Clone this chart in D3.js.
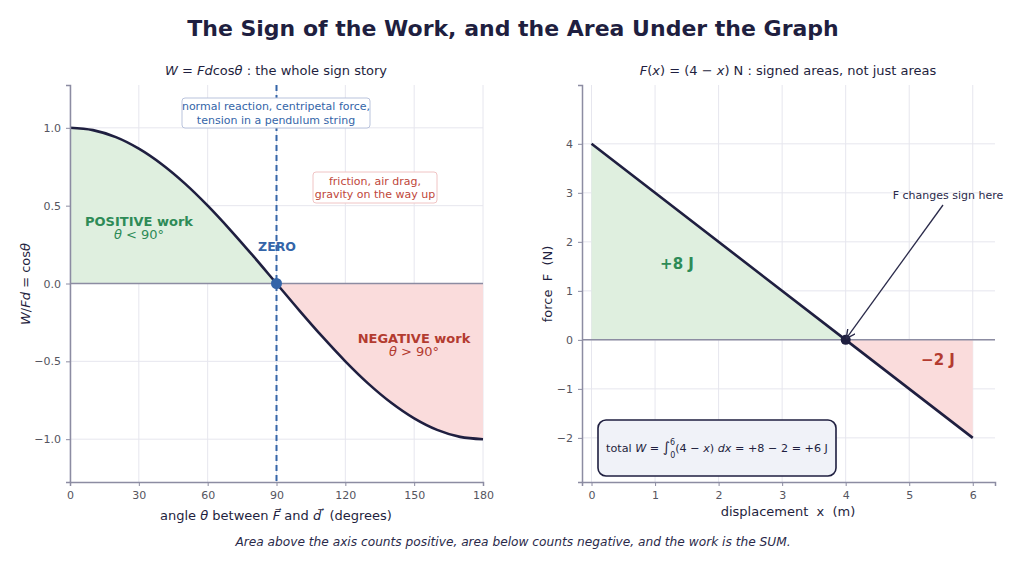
<!DOCTYPE html>
<html><head><meta charset="utf-8">
<script src="https://cdn.jsdelivr.net/npm/d3@7"></script>
<style>
body{margin:0;background:#fff;}
svg{font-family:"DejaVu Sans",sans-serif;}
</style></head>
<body><svg id="c" width="1024" height="567"></svg>
<script>
// ---- data ----
const angles = [0,10,20,30,40,50,60,70,80,90,100,110,120,130,140,150,160,170,180];
const cosValues = [1.0,0.985,0.940,0.866,0.766,0.643,0.500,0.342,0.174,0.0,-0.174,-0.342,-0.500,-0.643,-0.766,-0.866,-0.940,-0.985,-1.0];
const angleTicks = [0,30,60,90,120,150,180];
const cosTicks = [-1.0,-0.5,0.0,0.5,1.0];
const positions = [0,4,6];
const forces = [4,0,-2];
const xTicks = [0,1,2,3,4,5,6];
const fTicks = [-2,-1,0,1,2,3,4];

const navy="#1f1f40", green="#2e8b57", red="#b33b30", blue="#3465a8";
const gfill="#dfefdf", rfill="#fadcdc", grid="#e6e6ee", spine="#8c8ca2", tick="#555560";

const svg=d3.select("#c");

svg.append("text").attr("x",513).attr("y",36).attr("text-anchor","middle")
  .attr("font-size",22).attr("font-weight","bold").attr("fill",navy)
  .text("The Sign of the Work, and the Area Under the Graph");
svg.append("text").attr("x",513).attr("y",546).attr("text-anchor","middle")
  .attr("font-size",12.2).attr("font-style","italic").attr("fill","#2a2a4a")
  .text("Area above the axis counts positive, area below counts negative, and the work is the SUM.");

function richText(g, parts, attrs){
  const t=g.append("text").attr("xml:space","preserve");
  for(const k in attrs) t.attr(k,attrs[k]);
  parts.forEach(p=>{
    const s=t.append("tspan").text(p.t);
    if(p.i) s.attr("font-style","italic");
    if(p.dy) s.attr("dy",p.dy);
    if(p.fs) s.attr("font-size",p.fs);
    if(p.dx) s.attr("dx",p.dx);
  });
  return t;
}

// ---------- LEFT PANEL ----------
const L={x0:70,x1:483,y0:85,y1:482};
const xa=d3.scaleLinear().domain([0,180]).range([L.x0,L.x1]);
const ya=d3.scaleLinear().domain([-1.275,1.275]).range([L.y1,L.y0]);
const gl=svg.append("g");
gl.selectAll(".gx").data(angleTicks).join("line").attr("x1",d=>xa(d)).attr("x2",d=>xa(d))
  .attr("y1",L.y0).attr("y2",L.y1).attr("stroke",grid).attr("stroke-width",1);
gl.selectAll(".gy").data(cosTicks).join("line").attr("y1",d=>ya(d)).attr("y2",d=>ya(d))
  .attr("x1",L.x0).attr("x2",L.x1).attr("stroke",grid).attr("stroke-width",1);
const pts=angles.map((a,i)=>({a,v:cosValues[i]}));
const posPts=pts.filter(d=>d.a<=90), negPts=pts.filter(d=>d.a>=90);
const area=d3.area().x(d=>xa(d.a)).y0(ya(0)).y1(d=>ya(d.v)).curve(d3.curveCatmullRom);
gl.append("path").datum(posPts).attr("d",area).attr("fill",gfill);
gl.append("path").datum(negPts).attr("d",area).attr("fill",rfill);
gl.append("line").attr("x1",L.x0).attr("x2",L.x1).attr("y1",ya(0)).attr("y2",ya(0)).attr("stroke",spine).attr("stroke-width",1.5);
gl.append("path").datum(pts).attr("d",d3.line().x(d=>xa(d.a)).y(d=>ya(d.v)).curve(d3.curveCatmullRom))
  .attr("fill","none").attr("stroke",navy).attr("stroke-width",2.6);
gl.append("line").attr("x1",xa(90)).attr("x2",xa(90)).attr("y1",L.y0).attr("y2",L.y1)
  .attr("stroke",blue).attr("stroke-width",2).attr("stroke-dasharray","6,4");
gl.append("circle").attr("cx",xa(90)).attr("cy",ya(0)).attr("r",5.5).attr("fill",blue);
const axL=d3.axisBottom(xa).tickValues(angleTicks).tickSize(4).tickPadding(5).tickFormat(d3.format("d"));
const gax=gl.append("g").attr("transform",`translate(0,${L.y1})`).call(axL);
const ayL=d3.axisLeft(ya).tickValues(cosTicks).tickSize(4).tickPadding(5).tickFormat(d=>d3.format(".1f")(d).replace("-","−"));
const gay=gl.append("g").attr("transform",`translate(${L.x0},0)`).call(ayL);
[gax,gay].forEach(g=>{g.select(".domain").attr("stroke",spine).attr("stroke-width",1.5);
  g.selectAll(".tick line").attr("stroke",spine);
  g.selectAll(".tick text").attr("fill",tick).attr("font-size",11).attr("font-family","DejaVu Sans");});
richText(gl,[{t:"W",i:1},{t:" = "},{t:"Fd",i:1},{t:"cos"},{t:"θ",i:1},{t:" : the whole sign story"}],
  {x:276,y:75,"text-anchor":"middle","font-size":13,fill:navy});
richText(gl,[{t:"angle "},{t:"θ",i:1},{t:" between "},{t:"F⃗",i:1},{t:" and "},{t:"d⃗",i:1},{t:"  (degrees)"}],
  {x:276,y:520,"text-anchor":"middle","font-size":13,fill:navy});
richText(gl,[{t:"W",i:1},{t:"/"},{t:"Fd",i:1},{t:" = cos"},{t:"θ",i:1}],
  {transform:"translate(30,284) rotate(-90)","text-anchor":"middle","font-size":13,fill:navy});
function box(g,x,y,w,h,stroke,fill,rx){g.append("rect").attr("x",x).attr("y",y).attr("width",w).attr("height",h)
  .attr("rx",rx).attr("fill",fill).attr("stroke",stroke).attr("stroke-width",1);}
box(gl,182,98,188,30,"#b9c3dc","#fff",3);
gl.append("text").attr("x",276).attr("y",110).attr("text-anchor","middle").attr("font-size",11).attr("fill",blue).text("normal reaction, centripetal force,");
gl.append("text").attr("x",276).attr("y",123.5).attr("text-anchor","middle").attr("font-size",11).attr("fill",blue).text("tension in a pendulum string");
box(gl,313,172,124,31,"#f0c4c4","#fff",3);
gl.append("text").attr("x",375).attr("y",185).attr("text-anchor","middle").attr("font-size",11).attr("fill","#c0463a").text("friction, air drag,");
gl.append("text").attr("x",375).attr("y",198).attr("text-anchor","middle").attr("font-size",11).attr("fill","#c0463a").text("gravity on the way up");
gl.append("text").attr("x",139).attr("y",226).attr("text-anchor","middle").attr("font-size",13).attr("font-weight","bold").attr("fill",green).text("POSITIVE work");
richText(gl,[{t:"θ",i:1},{t:" < 90°"}],{x:139,y:239,"text-anchor":"middle","font-size":13,fill:green});
gl.append("text").attr("x",277).attr("y",251).attr("text-anchor","middle").attr("font-size",12.5).attr("font-weight","bold").attr("fill",blue).text("ZERO");
gl.append("text").attr("x",414).attr("y",343).attr("text-anchor","middle").attr("font-size",13).attr("font-weight","bold").attr("fill",red).text("NEGATIVE work");
richText(gl,[{t:"θ",i:1},{t:" > 90°"}],{x:414,y:356,"text-anchor":"middle","font-size":13,fill:red});

// ---------- RIGHT PANEL ----------
const R={x0:582,x1:995,y0:85,y1:482};
const xr=d3.scaleLinear().domain([-0.15,6.35]).range([R.x0,R.x1]);
const yr=d3.scaleLinear().domain([-2.9,5.2]).range([R.y1,R.y0]);
const gr=svg.append("g");
gr.selectAll(".gx").data(xTicks).join("line").attr("x1",d=>xr(d)).attr("x2",d=>xr(d))
  .attr("y1",R.y0).attr("y2",R.y1).attr("stroke",grid);
gr.selectAll(".gy").data(fTicks).join("line").attr("y1",d=>yr(d)).attr("y2",d=>yr(d))
  .attr("x1",R.x0).attr("x2",R.x1).attr("stroke",grid);
const fp=positions.map((x,i)=>({x,f:forces[i]}));
const ar=d3.area().x(d=>xr(d.x)).y0(yr(0)).y1(d=>yr(d.f));
gr.append("path").datum(fp.filter(d=>d.x<=4)).attr("d",ar).attr("fill",gfill);
gr.append("path").datum(fp.filter(d=>d.x>=4)).attr("d",ar).attr("fill",rfill);
gr.append("line").attr("x1",R.x0).attr("x2",R.x1).attr("y1",yr(0)).attr("y2",yr(0)).attr("stroke",spine).attr("stroke-width",1.5);
gr.append("path").datum(fp).attr("d",d3.line().x(d=>xr(d.x)).y(d=>yr(d.f)))
  .attr("fill","none").attr("stroke",navy).attr("stroke-width",2.6);
gr.append("circle").attr("cx",xr(4)).attr("cy",yr(0)).attr("r",5).attr("fill",navy);
const axR=d3.axisBottom(xr).tickValues(xTicks).tickSize(4).tickPadding(5).tickFormat(d3.format("d"));
const grx=gr.append("g").attr("transform",`translate(0,${R.y1})`).call(axR);
const ayR=d3.axisLeft(yr).tickValues(fTicks).tickSize(4).tickPadding(5).tickFormat(d=>String(d).replace("-","−"));
const gry=gr.append("g").attr("transform",`translate(${R.x0},0)`).call(ayR);
[grx,gry].forEach(g=>{g.select(".domain").attr("stroke",spine).attr("stroke-width",1.5);
  g.selectAll(".tick line").attr("stroke",spine);
  g.selectAll(".tick text").attr("fill",tick).attr("font-size",11).attr("font-family","DejaVu Sans");});
richText(gr,[{t:"F",i:1},{t:"("},{t:"x",i:1},{t:") = (4 − "},{t:"x",i:1},{t:") N : signed areas, not just areas"}],
  {x:788,y:75,"text-anchor":"middle","font-size":13,fill:navy});
gr.append("text").attr("x",788).attr("y",516).attr("text-anchor","middle").attr("font-size",13).attr("fill",navy).attr("xml:space","preserve").text("displacement  x  (m)");
gr.append("text").attr("transform","translate(552,284) rotate(-90)").attr("text-anchor","middle").attr("font-size",13).attr("fill",navy).attr("xml:space","preserve").text("force  F  (N)");
gr.append("text").attr("x",677).attr("y",269).attr("text-anchor","middle").attr("font-size",15).attr("font-weight","bold").attr("fill",green).text("+8 J");
gr.append("text").attr("x",938).attr("y",365).attr("text-anchor","middle").attr("font-size",15).attr("font-weight","bold").attr("fill",red).text("−2 J");
const defs=svg.append("defs");
defs.append("marker").attr("id","ah").attr("viewBox","0 0 10 10").attr("refX",9).attr("refY",5)
  .attr("markerWidth",7).attr("markerHeight",7).attr("orient","auto-start-reverse")
  .append("path").attr("d","M0,0 L10,5 L0,10").attr("fill","none").attr("stroke","#2a2a4a").attr("stroke-width",1.5);
gr.append("line").attr("x1",943).attr("y1",205).attr("x2",xr(4)+1).attr("y2",yr(0)-2)
  .attr("stroke","#2a2a4a").attr("stroke-width",1.3).attr("marker-end","url(#ah)");
gr.append("text").attr("x",948).attr("y",199).attr("text-anchor","middle").attr("font-size",11).attr("fill","#2a2a4a").text("F changes sign here");
gr.append("rect").attr("x",598).attr("y",420).attr("width",238).attr("height",56).attr("rx",8)
  .attr("fill","#f0f2f8").attr("stroke",navy).attr("stroke-width",1.6);
richText(gr,[{t:"total "},{t:"W",i:1},{t:" = "},{t:"∫",fs:14},{t:"6",fs:8,dy:-7},{t:"0",fs:8,dy:13,dx:-5},{t:"(4 − ",dy:-6},{t:"x",i:1},{t:") "},{t:"dx",i:1},{t:" = +8 − 2 = +6 J"}],
  {x:717,y:452,"text-anchor":"middle","font-size":11.2,fill:navy});
</script></body></html>
